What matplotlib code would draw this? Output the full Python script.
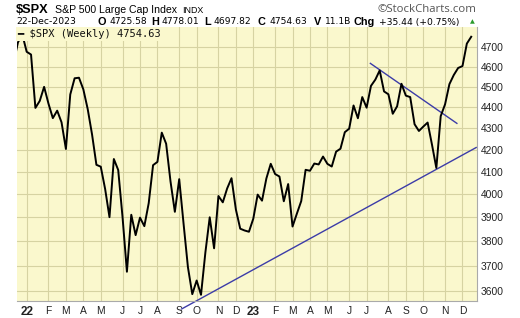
import matplotlib
matplotlib.use("Agg")
import matplotlib.pyplot as plt
import matplotlib.ticker as ticker
import pandas as pd

# weekly closes, weeks labelled by their Monday, starting 2021-12-13
first_week = "2021-12-13"
closes = [
    4620.64, 4725.79, 4766.18,
    4677.03, 4662.85, 4397.94, 4431.85, 4500.53, 4418.64, 4348.87, 4384.65,
    4328.87, 4204.31, 4463.12, 4543.06, 4545.86, 4488.28, 4392.59, 4271.78,
    4131.93, 4123.34, 4023.89, 3901.36, 4158.24, 4108.54, 3900.86, 3674.84,
    3911.74, 3825.33, 3899.38, 3863.16, 3961.63, 4130.29, 4145.19, 4280.15,
    4228.48, 4057.66, 3924.26, 4067.36, 3873.33, 3693.23, 3585.62, 3639.66,
    3583.07, 3752.75, 3901.06, 3770.55, 3992.93, 3965.34, 4026.12, 4071.70,
    3934.38, 3852.36, 3844.82, 3839.50,
    3895.08, 3999.09, 3972.61, 4070.56, 4136.48, 4090.46, 4079.09, 3970.04,
    4045.64, 3861.59, 3916.64, 3970.99, 4109.31, 4105.02, 4137.64, 4133.52,
    4169.48, 4136.25, 4124.08, 4191.98, 4205.45, 4282.37, 4298.86, 4409.59,
    4348.33, 4450.38, 4398.95, 4505.42, 4536.34, 4582.23, 4478.03, 4464.05,
    4369.71, 4405.71, 4515.77, 4457.49, 4450.32, 4320.06, 4288.05, 4308.50,
    4327.78, 4224.16, 4117.37, 4358.34, 4415.24, 4514.02, 4559.34, 4594.63,
    4604.37, 4719.19, 4754.63,
]

# trendlines (date, price)
lower_trend_dates = ["2022-09-09", "2023-12-26"]
lower_trend_vals = [3528, 4211]
upper_trend_dates = ["2023-07-09", "2023-11-25"]
upper_trend_vals = [4618, 4324]

yticks = [3600, 3700, 3800, 3900, 4000, 4100, 4200, 4300, 4400, 4500, 4600, 4700]
month_letters = ["J", "F", "M", "A", "M", "J", "J", "A", "S", "O", "N", "D"]

# header quote line
quote_labels = ["O", "H", "L", "C", "V", "Chg"]
quote_values = ["4725.58", "4778.01", "4697.82", "4754.63", "11.1B", "+35.44 (+0.75%)"]
label_x = [97, 151, 204, 258, 314, 353]
value_x = [109, 162, 213, 269, 325, 379]

dates = pd.date_range(first_week, periods=len(closes), freq="7D")
start = dates[0]


def to_idx(d):
    return (pd.Timestamp(d) - start).days / 7.0


xs = list(range(len(closes)))

# month gridlines at first week of each month
tick_pos = []
tick_lab = []
for i in range(1, len(dates)):
    if dates[i].month != dates[i - 1].month:
        tick_pos.append(i)
        if dates[i].month == 1:
            tick_lab.append(str(dates[i].year)[2:])
        else:
            tick_lab.append(month_letters[dates[i].month - 1])

W, H = 520, 318
fig = plt.figure(figsize=(W / 100, H / 100), dpi=100)
fig.patch.set_facecolor("white")
ax = fig.add_axes([16.7 / W, 17 / H, 460 / W, 274 / H])
ax.set_facecolor("#faf8cd")

ax.plot(xs, closes, color="black", lw=1.4, zorder=3)
ax.plot([to_idx(d) for d in lower_trend_dates], lower_trend_vals,
        color="#3c3ca8", lw=1.0, zorder=2, clip_on=False)
ax.plot([to_idx(d) for d in upper_trend_dates], upper_trend_vals,
        color="#3c3ca8", lw=1.0, zorder=2)

ax.set_yscale("log")
ax.set_ylim(3558.8, 4805.8)
ax.set_xlim(0.71, 106.26)

ax.yaxis.tick_right()
ax.set_yticks(yticks)
ax.yaxis.set_minor_locator(ticker.NullLocator())
ax.yaxis.set_major_formatter(ticker.FuncFormatter(lambda v, p: "%d" % v))
ax.tick_params(axis="y", length=0, pad=3, labelsize=7.4, labelcolor="#222222")

ax.set_xticks(tick_pos)
ax.set_xticklabels(tick_lab)
ax.tick_params(axis="x", length=0, pad=3.5, labelsize=7.4, labelcolor="#222222")
for lab in ax.get_xticklabels():
    lab.set_family("Liberation Sans")
    if lab.get_text().isdigit():
        lab.set_fontweight("bold")
        lab.set_fontsize(8.5)
for lab in ax.get_yticklabels():
    lab.set_family("Liberation Sans")

ax.grid(True, color="#d6d3a2", lw=0.8, zorder=1)
ax.set_axisbelow(True)
for s in ["top", "left"]:
    ax.spines[s].set_visible(False)
for s in ["right", "bottom"]:
    ax.spines[s].set_color("#aaaaaa")
    ax.spines[s].set_linestyle((0, (1, 1)))
    ax.spines[s].set_linewidth(0.8)

# legend row (covers the price line like the original)
ly = 1 - (34 - 27) / 274
ax.text(0.002, ly, u"\u2501 \\$SPX (Weekly) %.2f" % closes[-1],
        transform=ax.transAxes, ha="left", va="center", fontsize=7.5,
        family="DejaVu Sans Mono", color="#111111", zorder=5,
        bbox=dict(boxstyle="square,pad=0.2", fc="#faf8cd", ec="none"))


def ftext(x, y, s, family="Liberation Sans", **kw):
    fig.text(x / W, 1 - y / H, s, va="center", ha="left", family=family, **kw)


ftext(16, 10, r"\$SPX", fontsize=9.2, fontweight="bold")
ftext(55, 10, "S&P 500 Large Cap Index", fontsize=7.6)
ftext(182, 10.5, "INDX", fontsize=6.4)
ftext(377, 9, u"\u00a9StockCharts.com", family="Open Sans", fontsize=8.2,
      color="#555555")

ftext(16, 22, "22-Dec-2023", family="DejaVu Sans", fontsize=6.7)
for lab, lx in zip(quote_labels, label_x):
    ftext(lx, 22, lab, fontsize=7.8, fontweight="bold")
for val, vx in zip(quote_values, value_x):
    ftext(vx, 22, val, family="DejaVu Sans", fontsize=6.6)
fig.text(470 / W, 1 - 21.5 / H, u"\u25b2", va="center", ha="left", fontsize=4.5,
         color="#2a9a2a", family="DejaVu Sans")

fig.savefig("out.png", dpi=100, facecolor="white")
